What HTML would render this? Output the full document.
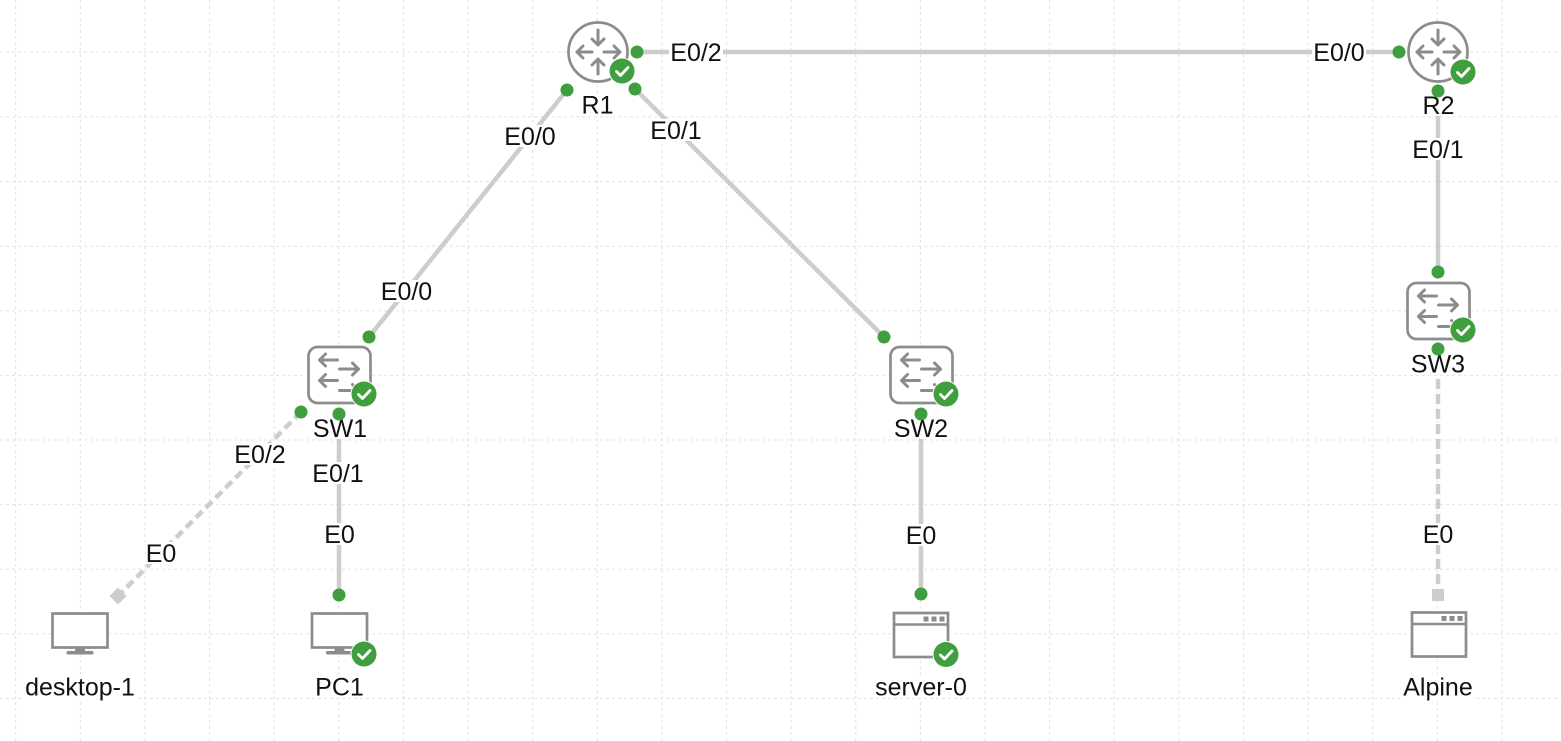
<!DOCTYPE html>
<html><head><meta charset="utf-8"><style>
html,body{margin:0;padding:0;background:#fff;}
svg{display:block;}
text{font-family:"Liberation Sans",Arial,sans-serif;font-size:25px;fill:#111;text-anchor:middle;}
</style></head><body>
<svg width="1561" height="741" viewBox="0 0 1561 741" xmlns="http://www.w3.org/2000/svg">
<defs>
  <g id="chk">
    <circle r="13.5" fill="#fff"/>
    <circle r="12.5" fill="#3f9f3f"/>
    <path d="M-5.5,0.5 L-1.5,4.5 L6,-3.5" fill="none" stroke="#fff" stroke-width="2.8" stroke-linecap="round" stroke-linejoin="round"/>
  </g>
  <g id="router">
    <circle r="29.5" fill="#fff" stroke="#8c8c8c" stroke-width="2.7"/>
    <g stroke="#8c8c8c" stroke-width="3" fill="none" stroke-linecap="round" stroke-linejoin="round">
      <path d="M0,-22 L0,-8 M-6,-13 L0,-7 L6,-13"/>
      <path d="M0,22 L0,8 M-6,13 L0,7 L6,13"/>
      <path d="M-6,0 L-21,0 M-15,-6 L-21,0 L-15,6"/>
      <path d="M6,0 L22,0 M16,-6 L22,0 L16,6"/>
    </g>
  </g>
  <g id="switch">
    <rect x="-31" y="-28" width="62" height="56" rx="9" fill="#fff" stroke="#8c8c8c" stroke-width="2.7"/>
    <g stroke="#8c8c8c" stroke-width="3" fill="none" stroke-linecap="round" stroke-linejoin="round">
      <path d="M-2,-15 L-20,-15 M-14,-21 L-20,-15 L-14,-9"/>
      <path d="M0,-6 L19,-6 M13,-12 L19,-6 L13,0"/>
      <path d="M-2,5.5 L-20,5.5 M-14,-0.5 L-20,5.5 L-14,11.5"/>
      <path d="M0,15.5 L19,15.5 M13,9.5 L19,15.5 L13,21.5"/>
    </g>
  </g>
  <g id="monitor">
    <rect x="-27.5" y="-16.5" width="55" height="34" fill="#fff" stroke="#8c8c8c" stroke-width="2.7"/>
    <path d="M-4,17.5 L4,17.5 L5.5,21.5 L-5.5,21.5 Z" fill="#8c8c8c"/>
    <rect x="-13.5" y="21" width="27" height="3.5" rx="1.5" fill="#8c8c8c"/>
  </g>
  <g id="window">
    <rect x="-27" y="-22" width="54" height="44" fill="#fff" stroke="#8c8c8c" stroke-width="2.7"/>
    <line x1="-27" y1="-10.5" x2="27" y2="-10.5" stroke="#8c8c8c" stroke-width="2.5"/>
    <rect x="2.5" y="-18.5" width="5" height="5" fill="#8c8c8c"/>
    <rect x="10.5" y="-18.5" width="5" height="5" fill="#8c8c8c"/>
    <rect x="18.5" y="-18.5" width="5" height="5" fill="#8c8c8c"/>
  </g>
</defs>

<!-- grid -->
<g stroke="#e2e2e2" stroke-width="1" stroke-dasharray="3 3">
  <line x1="15.7" y1="0" x2="15.7" y2="741"/><line x1="80.3" y1="0" x2="80.3" y2="741"/>
  <line x1="144.9" y1="0" x2="144.9" y2="741"/><line x1="209.6" y1="0" x2="209.6" y2="741"/>
  <line x1="274.2" y1="0" x2="274.2" y2="741"/><line x1="338.8" y1="0" x2="338.8" y2="741"/>
  <line x1="403.4" y1="0" x2="403.4" y2="741"/><line x1="468.0" y1="0" x2="468.0" y2="741"/>
  <line x1="532.7" y1="0" x2="532.7" y2="741"/><line x1="597.3" y1="0" x2="597.3" y2="741"/>
  <line x1="661.9" y1="0" x2="661.9" y2="741"/><line x1="726.5" y1="0" x2="726.5" y2="741"/>
  <line x1="791.1" y1="0" x2="791.1" y2="741"/><line x1="855.8" y1="0" x2="855.8" y2="741"/>
  <line x1="920.4" y1="0" x2="920.4" y2="741"/><line x1="985.0" y1="0" x2="985.0" y2="741"/>
  <line x1="1049.6" y1="0" x2="1049.6" y2="741"/><line x1="1114.2" y1="0" x2="1114.2" y2="741"/>
  <line x1="1178.9" y1="0" x2="1178.9" y2="741"/><line x1="1243.5" y1="0" x2="1243.5" y2="741"/>
  <line x1="1308.1" y1="0" x2="1308.1" y2="741"/><line x1="1372.7" y1="0" x2="1372.7" y2="741"/>
  <line x1="1437.3" y1="0" x2="1437.3" y2="741"/><line x1="1502.0" y1="0" x2="1502.0" y2="741"/>
  <line x1="0" y1="52.3" x2="1561" y2="52.3"/><line x1="0" y1="116.9" x2="1561" y2="116.9"/>
  <line x1="0" y1="181.5" x2="1561" y2="181.5"/><line x1="0" y1="246.2" x2="1561" y2="246.2"/>
  <line x1="0" y1="310.8" x2="1561" y2="310.8"/><line x1="0" y1="375.4" x2="1561" y2="375.4"/>
  <line x1="0" y1="440.0" x2="1561" y2="440.0"/><line x1="0" y1="504.6" x2="1561" y2="504.6"/>
  <line x1="0" y1="569.3" x2="1561" y2="569.3"/><line x1="0" y1="633.9" x2="1561" y2="633.9"/>
  <line x1="0" y1="698.5" x2="1561" y2="698.5"/>
</g>

<!-- links -->
<g stroke="#cdcdcd" stroke-width="4.5" fill="none">
  <line x1="637" y1="52" x2="1399" y2="52"/>
  <line x1="567" y1="90" x2="369" y2="337"/>
  <line x1="635" y1="89" x2="884" y2="337"/>
  <line x1="1438" y1="91" x2="1438" y2="272"/>
  <line x1="339" y1="414" x2="339" y2="595"/>
  <line x1="921" y1="414" x2="921" y2="595"/>
  <line x1="301" y1="412" x2="118" y2="596" stroke-dasharray="9 5"/>
  <line x1="1438" y1="349" x2="1438" y2="595" stroke-dasharray="10 5"/>
</g>
<rect x="112" y="590" width="12" height="12" fill="#cdcdcd" transform="rotate(45 118 596)"/>
<rect x="1432" y="589" width="12" height="12" fill="#cdcdcd"/>

<!-- label backgrounds -->
<g fill="#fff">
  <rect x="669" y="41" width="54" height="22"/>
  <rect x="1312" y="41" width="54" height="22"/>
  <rect x="503" y="125" width="54" height="22"/>
  <rect x="649" y="119" width="54" height="22"/>
  <rect x="379.5" y="280" width="54" height="22"/>
  <rect x="1411" y="138" width="54" height="22"/>
  <rect x="233" y="443" width="54" height="22"/>
  <rect x="311" y="462" width="54" height="22"/>
  <rect x="322.5" y="523" width="34" height="22"/>
  <rect x="144" y="542" width="34" height="22"/>
  <rect x="904" y="524" width="34" height="22"/>
  <rect x="1421" y="523" width="34" height="22"/>
  <rect x="580" y="94" width="35" height="22"/>
  <rect x="1421" y="94" width="35" height="22"/>
  <rect x="311.5" y="417" width="57" height="22"/>
  <rect x="892.5" y="417" width="57" height="22"/>
  <rect x="1409.5" y="352.5" width="57" height="22"/>
  <rect x="24" y="674" width="112" height="26"/>
  <rect x="314" y="676" width="51" height="22"/>
  <rect x="875" y="676" width="92" height="22"/>
  <rect x="1403" y="674" width="70" height="26"/>
</g>

<!-- labels -->
<g>
  <text x="696" y="60.9">E0/2</text>
  <text x="1339" y="60.9">E0/0</text>
  <text x="530" y="144.9">E0/0</text>
  <text x="676" y="138.9">E0/1</text>
  <text x="406.5" y="299.9">E0/0</text>
  <text x="1438" y="157.9">E0/1</text>
  <text x="260" y="462.9">E0/2</text>
  <text x="338" y="481.9">E0/1</text>
  <text x="339.5" y="542.9">E0</text>
  <text x="161" y="561.9">E0</text>
  <text x="921" y="543.9">E0</text>
  <text x="1438" y="542.9">E0</text>
  <text x="597.5" y="113.4">R1</text>
  <text x="1438.5" y="113.9">R2</text>
  <text x="340" y="436.9">SW1</text>
  <text x="921" y="436.9">SW2</text>
  <text x="1438" y="372.4">SW3</text>
  <text x="80" y="695.7">desktop-1</text>
  <text x="339.5" y="695.7">PC1</text>
  <text x="921" y="695.7">server-0</text>
  <text x="1438" y="695.7">Alpine</text>
</g>

<!-- nodes -->
<use href="#router" x="598" y="52"/>
<use href="#router" x="1438" y="52"/>
<use href="#switch" x="339.5" y="375"/>
<use href="#switch" x="921.5" y="375"/>
<use href="#switch" x="1438.5" y="311"/>
<use href="#monitor" x="80" y="630"/>
<use href="#monitor" x="339.5" y="630"/>
<use href="#window" x="921" y="635"/>
<use href="#window" x="1439" y="634.5"/>

<!-- port dots -->
<g fill="#3f9f3f">
  <circle cx="637" cy="52" r="6.5"/>
  <circle cx="567" cy="90" r="6.5"/>
  <circle cx="635" cy="89" r="6.5"/>
  <circle cx="1399" cy="52" r="6.5"/>
  <circle cx="1438" cy="91" r="6.5"/>
  <circle cx="369" cy="337" r="6.5"/>
  <circle cx="301" cy="412" r="6.5"/>
  <circle cx="339" cy="414" r="6.5"/>
  <circle cx="884" cy="337" r="6.5"/>
  <circle cx="921" cy="414" r="6.5"/>
  <circle cx="1438" cy="272" r="6.5"/>
  <circle cx="1438" cy="349" r="6.5"/>
  <circle cx="339" cy="595" r="6.5"/>
  <circle cx="921" cy="594" r="6.5"/>
</g>

<!-- status badges -->
<use href="#chk" x="622" y="71"/>
<use href="#chk" x="1463" y="72"/>
<use href="#chk" x="364" y="394"/>
<use href="#chk" x="946" y="394"/>
<use href="#chk" x="1463" y="330"/>
<use href="#chk" x="364" y="654"/>
<use href="#chk" x="946" y="654.5"/>
</svg>
</body></html>
